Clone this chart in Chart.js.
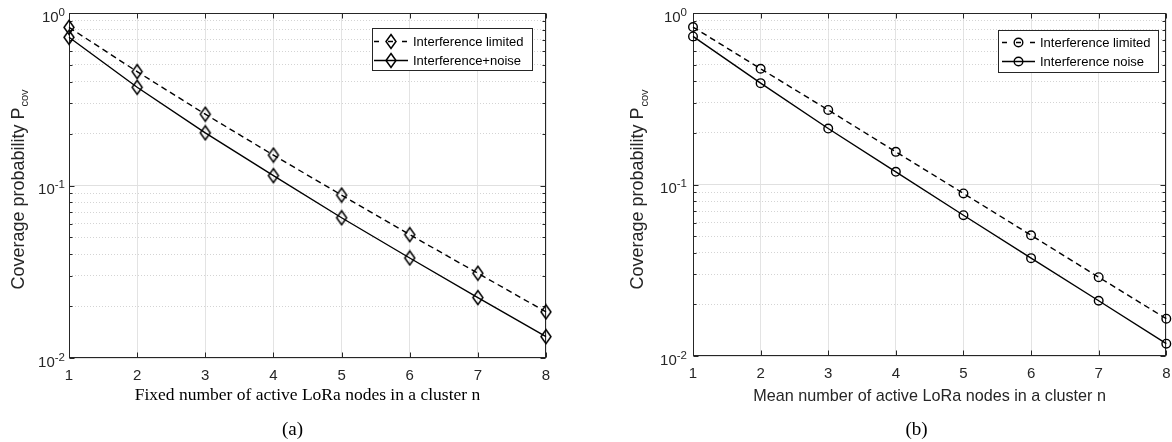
<!DOCTYPE html>
<html>
<head>
<meta charset="utf-8">
<script src="https://cdn.jsdelivr.net/npm/chart.js@4.4.1/dist/chart.umd.min.js"></script>
<style>
html, body { margin: 0; padding: 0; background: #fff; }
#wrap { position: relative; width: 1172px; height: 442px; overflow: hidden; }
#wrap canvas { position: absolute; top: 0; }
</style>
</head>
<body>
<div id="wrap">
	<canvas id="chartA" width="590" height="442" style="left:0;width:590px;height:442px"></canvas>
	<canvas id="chartB" width="582" height="442" style="left:590px;width:582px;height:442px"></canvas>
</div>
<script>
// data
var nodes = [1, 2, 3, 4, 5, 6, 7, 8];

// (a) fixed number of active nodes
var fixedLimited = [0.826, 0.457, 0.259, 0.150, 0.088, 0.0519, 0.031, 0.0185];
var fixedNoise   = [0.723, 0.371, 0.202, 0.114, 0.065, 0.038, 0.0224, 0.0133];

// (b) mean number of active nodes
var meanLimited = [0.828, 0.473, 0.272, 0.155, 0.0887, 0.0506, 0.0288, 0.0165];
var meanNoise   = [0.730, 0.390, 0.212, 0.1186, 0.0662, 0.0372, 0.0210, 0.0118];

var xTicks = [1, 2, 3, 4, 5, 6, 7, 8];
var yDecades = [0.01, 0.1, 1];
var yDecadeLabels = [['10', '-2'], ['10', '-1'], ['10', '0']];
var minorSteps = [2, 3, 4, 5, 6, 7, 8, 9];

var namesA = ['Interference limited', 'Interference+noise'];
var namesB = ['Interference limited', 'Interference noise'];
var xTitleA = 'Fixed number of active LoRa nodes in a cluster n';
var xTitleB = 'Mean number of active LoRa nodes in a cluster n';
var yTitle = ['Coverage probability P', 'cov'];

var SANS = '"Liberation Sans", Arial, Helvetica, sans-serif';
var SERIF = '"Liberation Serif", "Times New Roman", serif';
var INK = '#262626';

// all tick values for the log axis (decades plus minor steps)
var yTickValues = [];
yDecades.forEach(function (d, i) {
	yTickValues.push(d);
	if (i < yDecades.length - 1) {
		minorSteps.forEach(function (m) { yTickValues.push(+(d * m).toPrecision(3)); });
	}
});

function isDecade(v) {
	var l = Math.log10(v);
	return Math.abs(l - Math.round(l)) < 1e-6;
}

// diamond marker as a small canvas image
function diamondImg() {
	var c = document.createElement('canvas');
	c.width = 14; c.height = 17;
	var g = c.getContext('2d');
	g.strokeStyle = '#000';
	g.lineWidth = 1.5;
	g.beginPath();
	g.moveTo(7, 1.5); g.lineTo(12, 8.5); g.lineTo(7, 15.5); g.lineTo(2, 8.5);
	g.closePath();
	g.stroke();
	return c;
}
var diamond = diamondImg();

function pts(ys) {
	return nodes.map(function (n, i) { return { x: n, y: ys[i] }; });
}

function drawMarker(ctx, style, x, y) {
	if (style === 'circle') {
		ctx.beginPath();
		ctx.arc(x, y, 4.3, 0, Math.PI * 2);
		ctx.strokeStyle = '#000';
		ctx.lineWidth = 1.4;
		ctx.stroke();
	} else {
		ctx.drawImage(diamond, Math.round(x - diamond.width / 2), Math.round(y - diamond.height / 2));
	}
}

function makeChart(id, s) {
	var marker = s.marker === 'circle' ? 'circle' : diamond;

	var paper = {
		id: 'paper',
		beforeDatasetsDraw: function (chart) {
			var ctx = chart.ctx, a = chart.chartArea;
			var xs = chart.scales.x, ys = chart.scales.y;
			var L = Math.round(a.left) + 0.5, R = Math.round(a.right) - 0.5;
			var T = Math.round(a.top) + 0.5, B = Math.round(a.bottom) - 0.5;
			ctx.save();
			ctx.strokeStyle = INK;
			ctx.lineWidth = 1;
			ctx.strokeRect(L, T, R - L, B - T);
			ctx.beginPath();
			xTicks.forEach(function (v) {
				var px = Math.round(xs.getPixelForValue(v)) + 0.5;
				ctx.moveTo(px, B); ctx.lineTo(px, B - 5);
				ctx.moveTo(px, T); ctx.lineTo(px, T + 5);
			});
			yTickValues.forEach(function (v) {
				var py = Math.round(ys.getPixelForValue(v)) + 0.5;
				var len = isDecade(v) ? 5 : 3;
				ctx.moveTo(L, py); ctx.lineTo(L + len, py);
				ctx.moveTo(R, py); ctx.lineTo(R - len, py);
			});
			ctx.stroke();
			ctx.restore();
		},
		afterDraw: function (chart) {
			var ctx = chart.ctx, a = chart.chartArea;
			var ys = chart.scales.y;
			ctx.save();
			ctx.fillStyle = INK;

			// y decade labels with superscript exponent
			yDecades.forEach(function (v, i) {
				var py = ys.getPixelForValue(v);
				var right = a.left - s.tickGap;
				ctx.font = '11.5px ' + SANS;
				var we = ctx.measureText(yDecadeLabels[i][1]).width;
				ctx.font = '15px ' + SANS;
				var wb = ctx.measureText(yDecadeLabels[i][0]).width;
				ctx.textAlign = 'left';
				ctx.textBaseline = 'alphabetic';
				ctx.fillText(yDecadeLabels[i][0], right - we - wb, py + 8.7);
				ctx.font = '11.5px ' + SANS;
				ctx.fillText(yDecadeLabels[i][1], right - we, py + 2.5);
			});

			// y axis title with subscript
			ctx.save();
			ctx.translate(s.yTitleX, s.yTitleY);
			ctx.rotate(-Math.PI / 2);
			ctx.font = '18px ' + SANS;
			var wm = ctx.measureText(yTitle[0]).width;
			ctx.font = '11px ' + SANS;
			var ws = ctx.measureText(yTitle[1]).width;
			var x0 = -(wm + ws) / 2;
			ctx.textAlign = 'left';
			ctx.textBaseline = 'middle';
			ctx.font = '18px ' + SANS;
			ctx.fillText(yTitle[0], x0, 0);
			ctx.font = '11px ' + SANS;
			ctx.fillText(yTitle[1], x0 + wm + 1, 6);
			ctx.restore();

			// caption
			ctx.font = '19px ' + SERIF;
			ctx.textAlign = 'center';
			ctx.textBaseline = 'alphabetic';
			ctx.fillStyle = '#000';
			ctx.fillText(s.caption, s.captionX, 435);

			// legend
			var lg = s.legend;
			ctx.fillStyle = '#fff';
			ctx.fillRect(lg.x, lg.y, lg.w, lg.h);
			ctx.strokeStyle = INK;
			ctx.lineWidth = 1;
			ctx.strokeRect(lg.x + 0.5, lg.y + 0.5, lg.w, lg.h);
			chart.data.datasets.forEach(function (ds, i) {
				var ry = lg.rows[i];
				ctx.beginPath();
				ctx.setLineDash(ds.borderDash ? [5, 9] : []);
				ctx.strokeStyle = '#000';
				ctx.lineWidth = 1.3;
				ctx.moveTo(lg.lineX0, ry);
				ctx.lineTo(lg.lineX1, ry);
				ctx.stroke();
				ctx.setLineDash([]);
				drawMarker(ctx, s.marker, (lg.lineX0 + lg.lineX1) / 2, ry);
				ctx.fillStyle = '#000';
				ctx.font = '13px ' + SANS;
				ctx.textAlign = 'left';
				ctx.textBaseline = 'middle';
				ctx.fillText(ds.label, lg.textX, ry + 0.5);
			});
			ctx.restore();
		}
	};

	return new Chart(document.getElementById(id), {
		type: 'line',
		data: {
			datasets: [
				{
					label: s.names[0],
					data: pts(s.limited),
					borderColor: '#000',
					borderWidth: 1.4,
					borderDash: [6, 4],
					pointStyle: marker,
					pointRadius: 4.3,
					pointBorderWidth: 1.4,
					pointBorderColor: '#000',
					pointBackgroundColor: 'rgba(0,0,0,0)',
					clip: false,
					tension: 0
				},
				{
					label: s.names[1],
					data: pts(s.noise),
					borderColor: '#000',
					borderWidth: 1.4,
					pointStyle: marker,
					pointRadius: 4.3,
					pointBorderWidth: 1.4,
					pointBorderColor: '#000',
					pointBackgroundColor: 'rgba(0,0,0,0)',
					clip: false,
					tension: 0
				}
			]
		},
		options: {
			responsive: false,
			animation: false,
			layout: { padding: { left: 0, right: s.padRight, top: 13, bottom: 0 } },
			plugins: { legend: { display: false }, tooltip: { enabled: false } },
			scales: {
				x: {
					type: 'linear',
					min: 1,
					max: 8,
					afterBuildTicks: function (axis) {
						axis.ticks = xTicks.map(function (v) { return { value: v }; });
					},
					afterFit: function (axis) {
						axis.height = s.xAxisHeight;
						axis.paddingLeft = 0;
						axis.paddingRight = 0;
					},
					ticks: {
						padding: 8.5,
						color: INK,
						font: { family: SANS, size: 15 },
						maxRotation: 0,
						autoSkip: false
					},
					grid: { color: '#e3e3e3', lineWidth: 1, drawTicks: false },
					border: { display: false },
					title: {
						display: true,
						text: s.xTitle,
						color: s.xTitleSerif ? '#000' : INK,
						font: { family: s.xTitleSerif ? SERIF : SANS, size: s.xTitleSerif ? 17.5 : 16.2 },
						padding: { top: 0, bottom: 36 }
					}
				},
				y: {
					type: 'logarithmic',
					min: 0.01,
					max: 1,
					afterBuildTicks: function (axis) {
						axis.ticks = yTickValues.map(function (v) { return { value: v }; });
					},
					afterFit: function (axis) {
						axis.width = s.yAxisWidth;
						axis.paddingTop = 0;
						axis.paddingBottom = 0;
					},
					ticks: { display: false, autoSkip: false },
					grid: {
						color: function (c) { return c.tick && isDecade(c.tick.value) ? '#e0e0e0' : '#d4d4d4'; },
						lineWidth: 1,
						drawTicks: false
					},
					border: {
						display: false,
						dash: function (c) { return c.tick && !isDecade(c.tick.value) ? [1, 2] : []; }
					}
				}
			}
		},
		plugins: [paper]
	});
}

makeChart('chartA', {
	limited: fixedLimited,
	noise: fixedNoise,
	names: namesA,
	marker: 'diamond',
	xTitle: xTitleA,
	xTitleSerif: true,
	padRight: 44,
	yAxisWidth: 69,
	xAxisHeight: 84,
	tickGap: 4,
	yTitleX: 19,
	yTitleY: 190,
	caption: '(a)',
	captionX: 292.5,
	legend: { x: 372, y: 28, w: 160, h: 42, rows: [41.5, 60.5], lineX0: 374, lineX1: 408, textX: 413 }
});

makeChart('chartB', {
	limited: meanLimited,
	noise: meanNoise,
	names: namesB,
	marker: 'circle',
	xTitle: xTitleB,
	xTitleSerif: false,
	padRight: 3,
	yAxisWidth: 103,
	xAxisHeight: 86,
	tickGap: 6,
	yTitleX: 48.5,
	yTitleY: 190,
	caption: '(b)',
	captionX: 326.5,
	legend: { x: 408, y: 30, w: 160, h: 42, rows: [42.5, 61.5], lineX0: 412, lineX1: 445, textX: 450 }
});
</script>
</body>
</html>
